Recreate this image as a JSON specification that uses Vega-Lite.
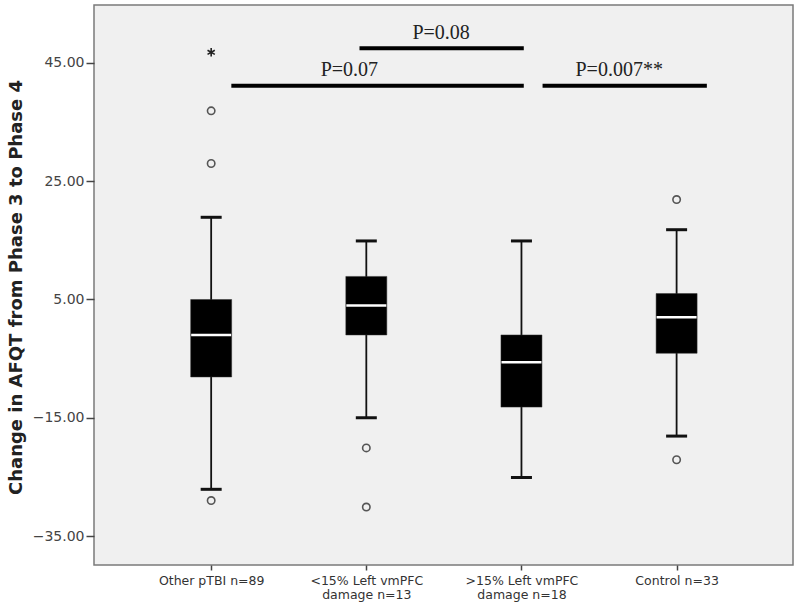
{
  "$schema": "https://vega.github.io/schema/vega-lite/v6.json",
  "width": 699,
  "height": 560,
  "autosize": "none",
  "padding": {"left": 94, "top": 5, "right": 7, "bottom": 43},
  "background": "white",
  "config": {
    "view": {"fill": "#f0f0f0", "stroke": "#7a7a7a", "strokeWidth": 1.5},
    "axis": {"grid": false, "domain": false, "labelFont": "DejaVu Sans", "labelColor": "#444", "tickColor": "#444", "tickWidth": 1.5}
  },
  "datasets": {
    "boxes": [
      {"group": 1, "name": "Other pTBI n=89", "lo": -27.1, "q1": -8.1, "median": -1.0, "q3": 5.0, "hi": 18.9},
      {"group": 2, "name": "<15% Left vmPFC damage n=13", "lo": -15.0, "q1": -1.0, "median": 4.0, "q3": 8.9, "hi": 14.9},
      {"group": 3, "name": ">15% Left vmPFC damage n=18", "lo": -25.1, "q1": -13.2, "median": -5.6, "q3": -1.0, "hi": 14.9},
      {"group": 4, "name": "Control n=33", "lo": -18.1, "q1": -4.1, "median": 2.0, "q3": 6.0, "hi": 16.8}
    ],
    "outliers": [
      {"group": 1, "value": -29.0, "kind": "outlier"},
      {"group": 1, "value": 28.0, "kind": "outlier"},
      {"group": 1, "value": 36.9, "kind": "outlier"},
      {"group": 1, "value": 46.8, "kind": "extreme"},
      {"group": 2, "value": -20.1, "kind": "outlier"},
      {"group": 2, "value": -30.1, "kind": "outlier"},
      {"group": 4, "value": 21.9, "kind": "outlier"},
      {"group": 4, "value": -22.1, "kind": "outlier"}
    ],
    "sigbars": [
      {"start": 1.13, "end": 3.015, "level": 41.16},
      {"start": 1.956, "end": 3.015, "level": 47.49},
      {"start": 3.136, "end": 4.195, "level": 41.16}
    ],
    "siglabels": [
      {"pos": 1.891, "level": 42.8, "label": "P=0.07"},
      {"pos": 2.482, "level": 49.06, "label": "P=0.08"},
      {"pos": 3.63, "level": 42.8, "label": "P=0.007**"}
    ]
  },
  "layer": [
    {
      "mark": {"type": "rule", "color": "#8a8a8a", "strokeWidth": 1.5},
      "encoding": {"y": {"datum": 0, "type": "quantitative", "scale": {"domain": [-39.9, 54.8], "nice": false, "zero": false}}}
    },
    {
      "data": {"name": "boxes"},
      "mark": {"type": "rule", "color": "#111", "strokeWidth": 1.8},
      "encoding": {
        "x": {"field": "group", "type": "quantitative",
          "scale": {"domain": [0.277, 4.718], "nice": false, "zero": false},
          "axis": {"title": null, "values": [1, 2, 3, 4], "tickSize": 5, "labelPadding": 4, "labelFontSize": 12.5, "labelLineHeight": 14, "labelColor": "#333", "labelBaseline": "top",
            "labelExpr": "datum.value == 1 ? 'Other pTBI n=89' : datum.value == 2 ? ['<15% Left vmPFC', 'damage n=13'] : datum.value == 3 ? ['>15% Left vmPFC', 'damage n=18'] : 'Control n=33'"}},
        "y": {"field": "lo", "type": "quantitative",
          "scale": {"domain": [-39.9, 54.8], "nice": false, "zero": false},
          "axis": {"title": "Change in AFQT from Phase 3 to Phase 4", "values": [-35, -15, 5, 25, 45], "format": ".2f", "tickSize": 8, "labelPadding": 2, "labelFontSize": 14,
            "titleFont": "DejaVu Sans", "titleFontSize": 18, "titleFontWeight": "bold", "titleColor": "#222", "titleX": -78, "titleY": 282, "titleAngle": -90, "titleAlign": "center", "titleBaseline": "middle"}},
        "y2": {"field": "hi"}
      }
    },
    {
      "data": {"name": "boxes"},
      "mark": {"type": "tick", "orient": "horizontal", "color": "#111", "opacity": 1, "size": 21, "thickness": 3},
      "encoding": {
        "x": {"field": "group", "type": "quantitative"},
        "y": {"field": "lo", "type": "quantitative"}
      }
    },
    {
      "data": {"name": "boxes"},
      "mark": {"type": "tick", "orient": "horizontal", "color": "#111", "opacity": 1, "size": 21, "thickness": 3},
      "encoding": {
        "x": {"field": "group", "type": "quantitative"},
        "y": {"field": "hi", "type": "quantitative"}
      }
    },
    {
      "data": {"name": "boxes"},
      "mark": {"type": "bar", "color": "#000", "opacity": 1, "width": 41, "stroke": "#333", "strokeWidth": 0.5},
      "encoding": {
        "x": {"field": "group", "type": "quantitative"},
        "y": {"field": "q1", "type": "quantitative"},
        "y2": {"field": "q3"}
      }
    },
    {
      "data": {"name": "boxes"},
      "mark": {"type": "tick", "orient": "horizontal", "color": "#ffffff", "opacity": 1, "size": 40, "thickness": 2.5},
      "encoding": {
        "x": {"field": "group", "type": "quantitative"},
        "y": {"field": "median", "type": "quantitative"}
      }
    },
    {
      "data": {"name": "outliers"},
      "transform": [{"filter": "datum.kind == 'outlier'"}],
      "mark": {"type": "point", "shape": "circle", "filled": false, "opacity": 1, "size": 55, "stroke": "#555", "strokeWidth": 1.6},
      "encoding": {
        "x": {"field": "group", "type": "quantitative"},
        "y": {"field": "value", "type": "quantitative"}
      }
    },
    {
      "data": {"name": "outliers"},
      "transform": [{"filter": "datum.kind == 'extreme'"}],
      "mark": {"type": "point", "shape": "M0,-1L0,1M-0.87,-0.5L0.87,0.5M-0.87,0.5L0.87,-0.5", "filled": false, "opacity": 1, "size": 70, "stroke": "#222", "strokeWidth": 1.6},
      "encoding": {
        "x": {"field": "group", "type": "quantitative"},
        "y": {"field": "value", "type": "quantitative"}
      }
    },
    {
      "data": {"name": "sigbars"},
      "mark": {"type": "rule", "color": "#000", "strokeWidth": 4, "strokeCap": "butt"},
      "encoding": {
        "x": {"field": "start", "type": "quantitative"},
        "x2": {"field": "end"},
        "y": {"field": "level", "type": "quantitative"}
      }
    },
    {
      "data": {"name": "siglabels"},
      "mark": {"type": "text", "font": "Liberation Serif", "fontSize": 20, "color": "#222", "align": "center", "baseline": "alphabetic"},
      "encoding": {
        "x": {"field": "pos", "type": "quantitative"},
        "y": {"field": "level", "type": "quantitative"},
        "text": {"field": "label"}
      }
    }
  ]
}
